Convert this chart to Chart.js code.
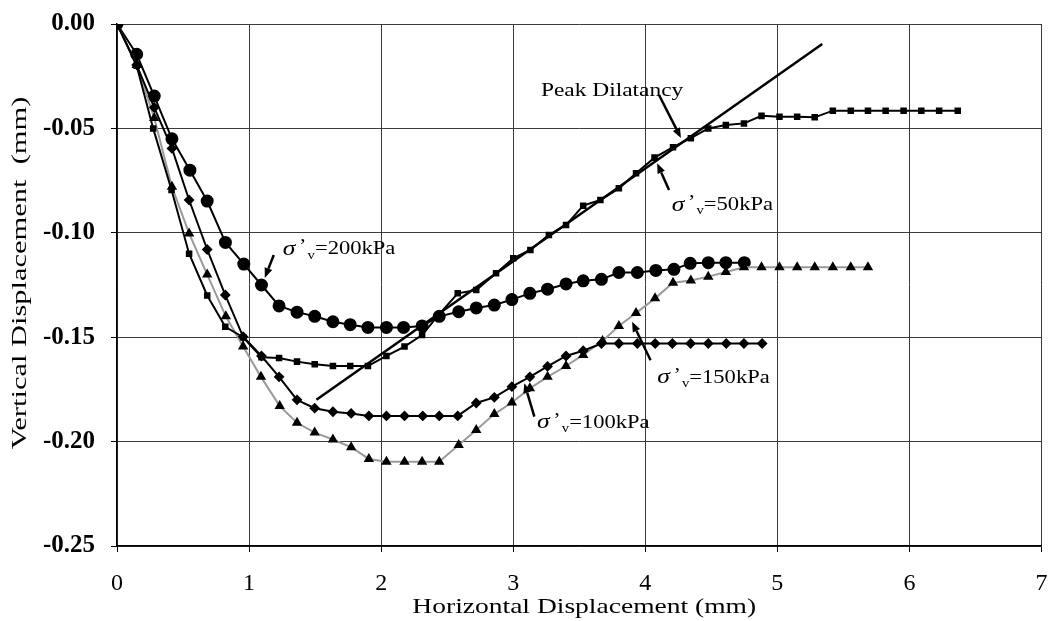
<!DOCTYPE html>
<html>
<head>
<meta charset="utf-8">
<script src="https://cdn.jsdelivr.net/npm/chart.js@4"></script>
<style>
  html,body{margin:0;padding:0;background:#fff;}
  #wrap{width:1049px;height:621px;}
</style>
</head>
<body>
<div id="wrap"><canvas id="chart" width="1049" height="621"></canvas></div>
<script>
// --- Data (mm) ---
const s50X = [0,0.149,0.274,0.413,0.546,0.683,0.82,0.955,1.094,1.227,1.363,1.497,1.635,1.766,1.9,2.04,2.177,2.31,2.44,2.58,2.72,2.87,3.0,3.13,3.27,3.40,3.53,3.66,3.80,3.93,4.07,4.21,4.345,4.477,4.61,4.747,4.88,5.016,5.15,5.283,5.42,5.556,5.686,5.82,5.956,6.09,6.225,6.366];
const s50Y = [0,-0.020,-0.050,-0.0795,-0.110,-0.130,-0.145,-0.150,-0.1596,-0.160,-0.1617,-0.163,-0.1638,-0.1638,-0.1638,-0.159,-0.1545,-0.149,-0.139,-0.129,-0.1274,-0.1194,-0.1122,-0.1082,-0.101,-0.0963,-0.087,-0.0843,-0.0787,-0.0715,-0.064,-0.059,-0.0547,-0.050,-0.0484,-0.0476,-0.044,-0.0444,-0.0444,-0.0447,-0.0415,-0.0415,-0.0415,-0.0415,-0.0415,-0.0415,-0.0415,-0.0415];

const s100X = [0,0.149,0.282,0.416,0.546,0.683,0.82,0.955,1.094,1.227,1.363,1.497,1.635,1.773,1.907,2.04,2.177,2.315,2.44,2.58,2.72,2.857,2.99,3.126,3.26,3.40,3.53,3.668,3.80,3.94,4.075,4.205,4.343,4.477,4.613,4.747,4.885];
const s100Y = [0,-0.0196,-0.040,-0.0596,-0.0843,-0.108,-0.1298,-0.1498,-0.159,-0.169,-0.180,-0.184,-0.1857,-0.1865,-0.1877,-0.1877,-0.1877,-0.1877,-0.1877,-0.1877,-0.1815,-0.1788,-0.1737,-0.169,-0.164,-0.159,-0.1565,-0.153,-0.153,-0.153,-0.153,-0.153,-0.153,-0.153,-0.153,-0.153,-0.153];

const s150X = [0,0.149,0.282,0.416,0.546,0.683,0.824,0.955,1.09,1.232,1.363,1.497,1.635,1.773,1.907,2.04,2.177,2.31,2.44,2.587,2.72,2.857,2.99,3.126,3.26,3.40,3.53,3.676,3.80,3.93,4.074,4.21,4.345,4.477,4.61,4.747,4.88,5.016,5.15,5.283,5.42,5.556,5.686];
const s150Y = [0,-0.0196,-0.045,-0.078,-0.1003,-0.120,-0.140,-0.1545,-0.169,-0.183,-0.191,-0.1957,-0.199,-0.2027,-0.2083,-0.2096,-0.2096,-0.2096,-0.2096,-0.2016,-0.1944,-0.1868,-0.1813,-0.1745,-0.169,-0.1638,-0.1585,-0.1518,-0.1446,-0.1384,-0.1314,-0.1239,-0.1228,-0.121,-0.1188,-0.1165,-0.1165,-0.1165,-0.1165,-0.1165,-0.1165,-0.1165,-0.1165];

const s200X = [0,0.149,0.282,0.416,0.552,0.683,0.821,0.96,1.094,1.227,1.363,1.497,1.635,1.766,1.9,2.04,2.17,2.31,2.44,2.587,2.72,2.857,2.99,3.126,3.26,3.40,3.53,3.668,3.80,3.94,4.08,4.217,4.34,4.477,4.61,4.75];
const s200Y = [0,-0.0145,-0.0345,-0.055,-0.070,-0.0848,-0.1046,-0.115,-0.125,-0.135,-0.138,-0.140,-0.1426,-0.144,-0.1453,-0.1453,-0.1453,-0.1446,-0.140,-0.1378,-0.136,-0.1346,-0.132,-0.129,-0.127,-0.1245,-0.123,-0.1223,-0.119,-0.119,-0.118,-0.1175,-0.1146,-0.1143,-0.1143,-0.1143];

const peakX = [1.51, 5.34];
const peakY = [-0.180, -0.0096];

const xTicks = [0,1,2,3,4,5,6,7];
const yTicks = [0,-0.05,-0.10,-0.15,-0.20,-0.25];

const xTitle = 'Horizontal Displacement (mm)';
const yTitle = 'Vertical Displacement  (mm)';

// text notes with their arrows, in data units (arrow: fromX, fromY, toX, toY)
const notes = [
  {text:'Peak Dilatancy', x:3.21, y:-0.0324, plain:true, ax:[4.104,-0.034,4.27,-0.0546]},
  {text:'=50kPa',  x:4.20, y:-0.0867, ax:[4.18,-0.0795,4.09,-0.0667]},
  {text:'=200kPa', x:1.255,y:-0.108,  ax:[1.187,-0.1106,1.119,-0.1216]},
  {text:'=150kPa', x:4.09, y:-0.1695, ax:[4.04,-0.161,3.90,-0.1426]},
  {text:'=100kPa', x:3.18, y:-0.191,  ax:[3.16,-0.188,3.084,-0.172]}
];

const pts = (xs,ys)=>xs.map((x,i)=>({x, y:ys[i]}));

// --- Annotation plugin ---
function drawArrow(ctx,x1,y1,x2,y2){
  const a=Math.atan2(y2-y1,x2-x1), L=10, W=4;
  const bx=x2-L*Math.cos(a), by=y2-L*Math.sin(a);
  ctx.strokeStyle='#000'; ctx.fillStyle='#000'; ctx.lineWidth=2.5;
  ctx.beginPath(); ctx.moveTo(x1,y1); ctx.lineTo(bx,by); ctx.stroke();
  ctx.beginPath();
  ctx.moveTo(x2,y2);
  ctx.lineTo(bx+W*Math.sin(a), by-W*Math.cos(a));
  ctx.lineTo(bx-W*Math.sin(a), by+W*Math.cos(a));
  ctx.closePath(); ctx.fill();
}

const SERIF='"Liberation Serif", "Times New Roman", serif';

const notesPlugin = {
  id:'notes',
  afterDatasetsDraw(chart){
    const {ctx, chartArea:ca, scales:{x, y}} = chart;
    ctx.save();
    ctx.fillStyle='#000'; ctx.textBaseline='middle';
    notes.forEach(n=>{
      const a=n.ax;
      drawArrow(ctx, x.getPixelForValue(a[0]), y.getPixelForValue(a[1]), x.getPixelForValue(a[2]), y.getPixelForValue(a[3]));
      ctx.save();
      ctx.translate(x.getPixelForValue(n.x), y.getPixelForValue(n.y));
      ctx.fillStyle='#000'; ctx.textAlign='left';
      if(n.plain){
        ctx.scale(1.3,1);
        ctx.font='18px '+SERIF;
        ctx.fillText(n.text, 0, 0);
      } else {
        ctx.scale(1.22,1);
        let px=0;
        ctx.font='italic 21px '+SERIF;
        ctx.fillText('\u03C3', px, 0);
        px+=ctx.measureText('\u03C3').width+3;
        ctx.font='18px '+SERIF;
        ctx.fillText('\u2019', px, -2);
        px+=ctx.measureText('\u2019').width+1;
        ctx.font='12px '+SERIF;
        ctx.fillText('v', px, 6);
        px+=ctx.measureText('v').width;
        ctx.font='18.5px '+SERIF;
        ctx.fillText(n.text, px, 0);
      }
      ctx.restore();
    });
    // axis titles (stretched like the source figure)
    ctx.textAlign='center';
    ctx.font='21px '+SERIF;
    ctx.save();
    ctx.translate((ca.left+ca.right)/2+5, 607);
    ctx.scale(1.31,1);
    ctx.fillText(xTitle, 0, 0);
    ctx.restore();
    ctx.save();
    ctx.translate(20, 273);
    ctx.rotate(-Math.PI/2);
    ctx.scale(1.45,1);
    ctx.fillText(yTitle, 0, 0);
    ctx.restore();
    ctx.restore();
  }
};

// --- Chart ---
const black='#000', grid='#3a3a3a';
new Chart(document.getElementById('chart'),{
  type:'scatter',
  data:{datasets:[
    {label:'50kPa', data:pts(s50X,s50Y), showLine:true, borderColor:black, borderWidth:2, pointStyle:'rect', pointRadius:3.2, pointBackgroundColor:black, pointBorderColor:black},
    {label:'100kPa', data:pts(s100X,s100Y), showLine:true, borderColor:black, borderWidth:2, pointStyle:'rectRot', pointRadius:4, pointBackgroundColor:black, pointBorderColor:black},
    {label:'150kPa', data:pts(s150X,s150Y), showLine:true, borderColor:'#9a9a9a', borderWidth:2, pointStyle:'triangle', pointRadius:4, pointBackgroundColor:black, pointBorderColor:black},
    {label:'200kPa', data:pts(s200X,s200Y), showLine:true, borderColor:black, borderWidth:2, pointStyle:'circle', pointRadius:5.5, pointBackgroundColor:black, pointBorderColor:black},
    {label:'Peak', data:pts(peakX,peakY), showLine:true, borderColor:black, borderWidth:2.5, pointRadius:0}
  ]},
  options:{
    responsive:false, animation:false,
    layout:{padding:{top:24, right:6, left:0, bottom:0}},
    plugins:{legend:{display:false}, tooltip:{enabled:false}},
    scales:{
      x:{
        type:'linear', min:0, max:7,
        afterBuildTicks:s=>{ s.ticks=xTicks.map(v=>({value:v})); },
        afterFit:s=>{ s.height=75; s.paddingRight=0; s.paddingLeft=0; },
        grid:{color:grid, lineWidth:1, tickLength:6, tickColor:black},
        border:{color:black, width:1.5},
        ticks:{color:black, font:{family:SERIF, size:24}, padding:17, maxRotation:0},
        title:{display:false}
      },
      y:{
        type:'linear', min:-0.25, max:0,
        afterBuildTicks:s=>{ s.ticks=yTicks.map(v=>({value:v})); },
        afterFit:s=>{ s.width=117; s.paddingTop=0; s.paddingBottom=0; },
        grid:{color:grid, lineWidth:1, tickLength:6, tickColor:black},
        border:{color:black, width:1.5},
        ticks:{color:black, font:{family:SERIF, size:25, weight:'bold'}, padding:16,
          callback:v=>Math.abs(v)<1e-9?'0.00':v.toFixed(2)},
        title:{display:false}
      }
    }
  },
  plugins:[notesPlugin]
});
</script>
</body>
</html>
